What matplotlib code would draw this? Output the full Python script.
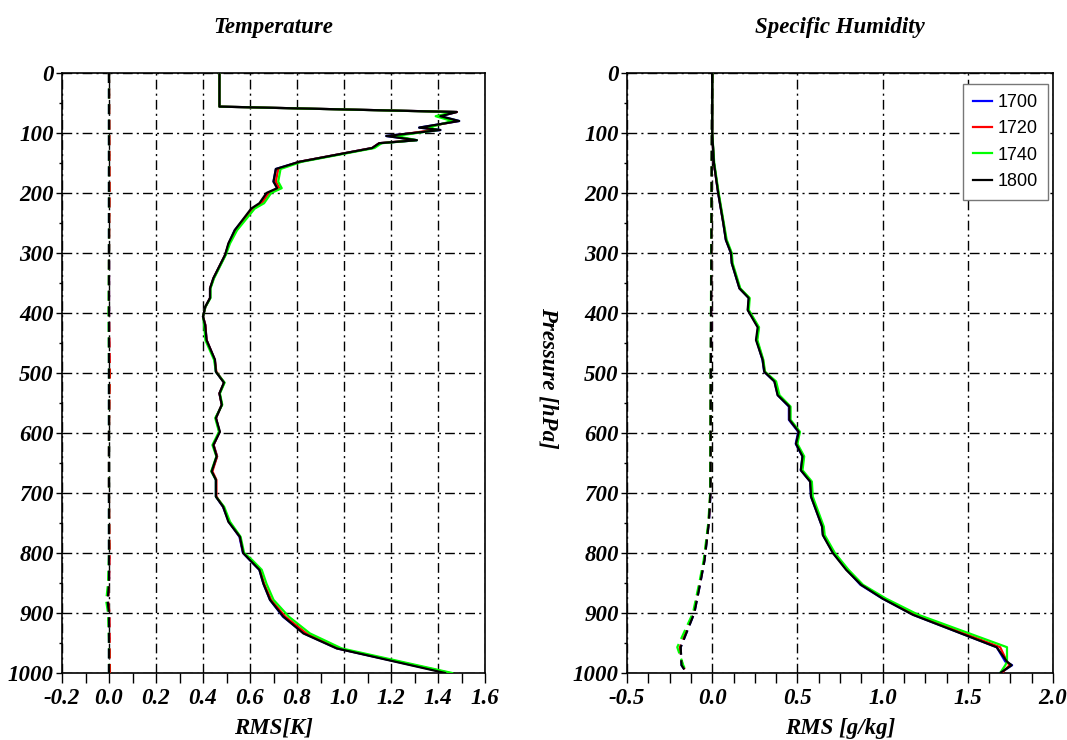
import matplotlib
matplotlib.use("Agg")
import matplotlib.pyplot as plt
from matplotlib.ticker import MultipleLocator, FormatStrFormatter

# ---------------- data ----------------
series_names = ["1700", "1720", "1740", "1800"]
series_colors = ["#0000ff", "#ff0000", "#00ff00", "#000000"]

# Temperature RMS (solid)
t_p = [0, 56, 65, 72, 80, 91, 95, 105, 112, 117, 125, 148, 160, 181, 192, 200, 217, 226,
       262, 284, 303, 342, 359, 375, 390, 406, 420, 445, 478, 498, 516, 534, 553, 575,
       598, 620, 639, 664, 678, 706, 723, 748, 773, 800, 812, 828, 851, 878, 906, 934,
       959, 1000]
t_1700 = [0.47, 0.47, 1.48, 1.41, 1.49, 1.32, 1.41, 1.18, 1.31, 1.15, 1.12, 0.81, 0.71, 0.70,
          0.72, 0.675, 0.645, 0.61, 0.535, 0.51, 0.495, 0.445, 0.43, 0.43, 0.41, 0.40, 0.41,
          0.415, 0.45, 0.455, 0.49, 0.47, 0.48, 0.455, 0.47, 0.445, 0.46, 0.437, 0.455,
          0.455, 0.485, 0.51, 0.555, 0.57, 0.60, 0.64, 0.657, 0.685, 0.74, 0.83, 0.97, 1.44]
t_1720 = [0.47, 0.47, 1.48, 1.40, 1.48, 1.34, 1.38, 1.20, 1.30, 1.15, 1.12, 0.81, 0.72, 0.71,
          0.725, 0.68, 0.65, 0.615, 0.54, 0.51, 0.495, 0.445, 0.43, 0.43, 0.41, 0.40, 0.41,
          0.415, 0.45, 0.457, 0.49, 0.47, 0.48, 0.455, 0.47, 0.445, 0.46, 0.44, 0.457,
          0.457, 0.487, 0.512, 0.557, 0.572, 0.603, 0.643, 0.66, 0.69, 0.75, 0.84, 0.975, 1.45]
t_1740 = [0.47, 0.47, 1.47, 1.39, 1.46, 1.36, 1.40, 1.22, 1.31, 1.16, 1.13, 0.82, 0.73, 0.72,
          0.735, 0.69, 0.66, 0.62, 0.545, 0.515, 0.497, 0.447, 0.432, 0.432, 0.41, 0.40, 0.405,
          0.41, 0.447, 0.455, 0.492, 0.472, 0.482, 0.452, 0.468, 0.44, 0.457, 0.435, 0.455,
          0.455, 0.49, 0.515, 0.56, 0.575, 0.61, 0.65, 0.67, 0.70, 0.765, 0.855, 0.99, 1.46]
t_1800 = [0.47, 0.47, 1.48, 1.41, 1.49, 1.32, 1.41, 1.18, 1.31, 1.15, 1.12, 0.81, 0.71, 0.70,
          0.715, 0.67, 0.64, 0.605, 0.535, 0.508, 0.494, 0.444, 0.43, 0.43, 0.409, 0.40, 0.409,
          0.415, 0.451, 0.455, 0.489, 0.47, 0.48, 0.455, 0.472, 0.444, 0.458, 0.437, 0.455,
          0.455, 0.486, 0.508, 0.557, 0.571, 0.60, 0.64, 0.657, 0.685, 0.742, 0.827, 0.969, 1.43]

# Temperature bias (dashed)
tb_p = [0, 100, 200, 300, 400, 500, 600, 700, 800, 850, 880, 900, 950, 1000]
tb_1700 = [0.0, 0.0, 0.0, 0.0, 0.0, 0.0, 0.0, 0.0, 0.0, 0.0, -0.005, 0.0, 0.0, 0.0]
tb_1720 = [0.0, 0.002, 0.003, 0.0, 0.0, 0.004, 0.0, 0.0, 0.003, 0.0, -0.004, 0.002, 0.003, 0.004]
tb_1740 = [0.0, 0.0, 0.0, 0.0, -0.002, 0.0, 0.0, 0.0, 0.0, -0.004, -0.012, -0.004, 0.0, 0.0]
tb_1800 = [0.0, 0.0, 0.0, 0.0, 0.0, 0.0, 0.0, 0.0, 0.0, 0.0, -0.006, 0.0, 0.0, 0.0]

# Specific humidity RMS (solid)
q_p = [0, 100, 150, 200, 250, 278, 300, 317, 359, 375, 395, 424, 445, 478, 498, 514, 537,
       556, 578, 598, 618, 639, 662, 681, 706, 756, 770, 800, 828, 853, 876, 903, 957, 981,
       987, 1000]
q_1700 = [0.0, 0.0, 0.01, 0.035, 0.065, 0.08, 0.11, 0.115, 0.16, 0.215, 0.21, 0.27, 0.26,
          0.295, 0.305, 0.365, 0.385, 0.45, 0.45, 0.505, 0.49, 0.53, 0.52, 0.575, 0.58, 0.645,
          0.65, 0.71, 0.79, 0.87, 1.0, 1.18, 1.67, 1.72, 1.76, 1.69]
q_1720 = [0.0, 0.0, 0.01, 0.036, 0.066, 0.082, 0.112, 0.117, 0.162, 0.217, 0.212, 0.272,
          0.262, 0.298, 0.308, 0.37, 0.39, 0.455, 0.455, 0.51, 0.495, 0.535, 0.525, 0.578,
          0.583, 0.648, 0.653, 0.713, 0.795, 0.877, 1.01, 1.19, 1.69, 1.73, 1.745, 1.70]
q_1740 = [0.0, 0.0, 0.012, 0.038, 0.068, 0.085, 0.115, 0.12, 0.165, 0.22, 0.215, 0.275,
          0.265, 0.30, 0.31, 0.375, 0.395, 0.46, 0.46, 0.515, 0.50, 0.54, 0.53, 0.585,
          0.59, 0.655, 0.66, 0.72, 0.80, 0.885, 1.02, 1.21, 1.73, 1.73, 1.72, 1.69]
q_1800 = [0.0, 0.0, 0.01, 0.035, 0.065, 0.08, 0.11, 0.115, 0.16, 0.214, 0.208, 0.267, 0.257,
          0.296, 0.306, 0.365, 0.384, 0.453, 0.453, 0.508, 0.492, 0.53, 0.52, 0.575, 0.58,
          0.645, 0.649, 0.708, 0.786, 0.874, 1.0, 1.178, 1.669, 1.73, 1.757, 1.69]

# Specific humidity bias (dashed)
qb_p = [0, 300, 500, 700, 750, 812, 850, 900, 957, 987, 1000]
qb_1700 = [0.0, -0.005, -0.008, -0.01, -0.02, -0.045, -0.07, -0.105, -0.185, -0.18, -0.15]
qb_1720 = [0.0, -0.005, -0.008, -0.011, -0.021, -0.047, -0.072, -0.108, -0.19, -0.175, -0.15]
qb_1740 = [0.0, -0.006, -0.009, -0.012, -0.023, -0.05, -0.076, -0.113, -0.205, -0.17, -0.148]
qb_1800 = [0.0, -0.005, -0.008, -0.01, -0.02, -0.045, -0.07, -0.105, -0.185, -0.18, -0.15]

# ---------------- plotting ----------------
SERIF = "Liberation Serif"
tfont = dict(family=SERIF, weight="bold", style="italic", size=16.5)

fig = plt.figure(figsize=(10.67, 7.4), dpi=100)
ax1 = fig.add_axes([62 / 1067, 1 - 673 / 740, 423 / 1067, 600 / 740])
ax2 = fig.add_axes([627 / 1067, 1 - 673 / 740, 426 / 1067, 600 / 740])

t_solid = [t_1700, t_1720, t_1740, t_1800]
t_dash = [tb_1700, tb_1720, tb_1740, tb_1800]
q_solid = [q_1700, q_1720, q_1740, q_1800]
q_dash = [qb_1700, qb_1720, qb_1740, qb_1800]

for i, (name, col) in enumerate(zip(series_names, series_colors)):
    ax1.plot(t_solid[i], t_p, color=col, lw=1.6, zorder=3 + i)
    ax1.plot(t_dash[i], tb_p, color=col, lw=1.6, dashes=(4.5, 2.5), zorder=3 + i)
    ax2.plot(q_solid[i], q_p, color=col, lw=1.6, zorder=3 + i, label=name)
    ax2.plot(q_dash[i], qb_p, color=col, lw=1.6, dashes=(4.5, 2.5), zorder=3 + i)

for ax, xlim, major, minor, xlabel, title in [
        (ax1, (-0.2, 1.6), 0.2, 0.1, "RMS[K]", "Temperature"),
        (ax2, (-0.5, 2.0), 0.5, 0.125, "RMS [g/kg]", "Specific Humidity")]:
    ax.set_xlim(*xlim)
    ax.set_ylim(1000, 0)
    ax.xaxis.set_major_locator(MultipleLocator(major))
    ax.xaxis.set_minor_locator(MultipleLocator(minor))
    ax.xaxis.set_major_formatter(FormatStrFormatter("%.1f"))
    ax.yaxis.set_major_locator(MultipleLocator(100))
    ax.yaxis.set_minor_locator(MultipleLocator(50))
    ax.yaxis.set_major_formatter(FormatStrFormatter("%d"))
    ax.grid(True, which="major", color="black", lw=1.0, dashes=(7, 3, 1.5, 3))
    ax.tick_params(axis="x", which="both", direction="out", length=7, width=1, pad=4,
                   top=False)
    ax.tick_params(axis="y", which="major", direction="out", length=4, width=1, pad=2,
                   right=False)
    ax.tick_params(axis="y", which="minor", direction="out", length=2.5, width=1,
                   right=False)
    for lab in ax.get_xticklabels() + ax.get_yticklabels():
        lab.set_fontproperties(matplotlib.font_manager.FontProperties(**tfont))
    for sp in ax.spines.values():
        sp.set_linewidth(1.2)
    ax.set_xlabel(xlabel, fontdict=tfont, labelpad=6)
    ax.set_title(title, fontdict=tfont, pad=29)

fig.text(548 / 1067, 1 - 378 / 740, "Pressure [hPa]", rotation=-90, ha="center",
         va="center", **tfont)

leg = ax2.legend(loc="upper right", bbox_to_anchor=(1048 / 1067, 1 - 84 / 740),
                 bbox_transform=fig.transFigure,
                 prop=dict(family="Liberation Sans", size=13),
                 handlelength=1.1, handletextpad=0.3, labelspacing=0.52,
                 borderaxespad=0.0, fancybox=False, framealpha=1, edgecolor="#777777",
                 borderpad=0.55)
leg.get_frame().set_linewidth(1.0)

fig.savefig("out.png", dpi=100)
